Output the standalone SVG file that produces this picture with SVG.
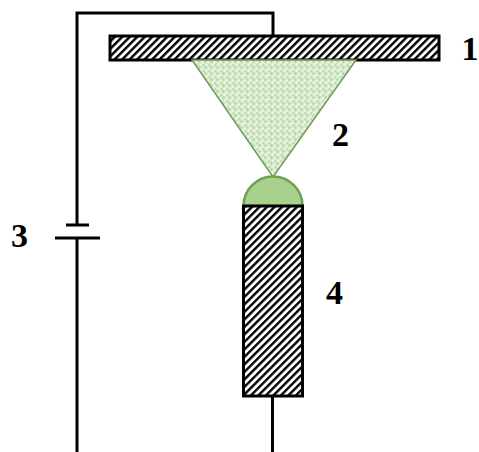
<svg xmlns="http://www.w3.org/2000/svg" width="479" height="452" viewBox="0 0 479 452">
<style>
.wire{fill:none;stroke:#000;stroke-width:3}
.hatched{fill:url(#hatch);stroke:#000;stroke-width:3}
.label{font-family:"Liberation Serif",serif;font-weight:bold;font-size:34px;fill:#000}
</style>
<defs>
<pattern id="hatch" width="5.300" height="5.300" patternUnits="userSpaceOnUse" patternTransform="rotate(45)">
<rect width="5.300" height="5.300" fill="#fff"/>
<rect width="2.400" height="5.300" fill="#000"/>
</pattern>
<pattern id="speckle" width="6" height="6" patternUnits="userSpaceOnUse">
<rect width="6" height="6" fill="#d5e8ca"/>
<circle cx="1.500" cy="1.500" r="0.900" fill="#a3cb90"/>
<circle cx="4.500" cy="2.500" r="0.900" fill="#fbfdf9"/>
<circle cx="2.500" cy="4.500" r="0.900" fill="#fbfdf9"/>
<circle cx="5.300" cy="5.200" r="0.700" fill="#a3cb90"/>
</pattern>
</defs>
<g id="connectors">
<path class="wire" d="M77 452V238M77 225V13H273V36"/>
<path class="wire" d="M272.500 396V452"/>
</g>
<g id="node-1"><rect class="hatched" x="110" y="36" width="329" height="24"/><text class="label" x="461.500" y="60">1</text></g>
<g id="node-2"><path d="M192 60H356L273 177Z" fill="url(#speckle)" stroke="#6f9a58" stroke-width="1.500"/><text class="label" x="332" y="146">2</text></g>
<g id="node-3"><path class="wire" d="M66 225H89M55 238H100"/><text class="label" x="11" y="247">3</text></g>
<g id="node-4"><path d="M243.500 206A29.500 29.500 0 0 1 302.500 206Z" fill="#a9d18e" stroke="#70a050" stroke-width="2.500"/><rect class="hatched" x="243.500" y="206" width="59" height="190"/><text class="label" x="326" y="304">4</text></g>
</svg>
